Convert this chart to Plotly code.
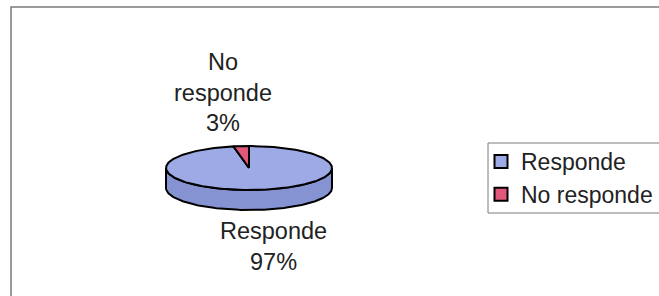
import numpy as np
import plotly.graph_objects as go

# ---- data ----
categories = ["Responde", "No responde"]
values = [97, 3]
label_texts = ["Responde<br>97%", "No<br>responde<br>3%"]

# ---- style ----
W, H = 659, 296
top_colors = ["#9DAAE6", "#E1587C"]
side_colors = ["#8593D2", "#B8456A"]
CX, CY, RA, RB, DEPTH = 249, 168, 83, 22, 20
FONT = "Liberation Sans, Arial, sans-serif"

fig = go.Figure()

total = float(sum(values))
angles = []
start = 90.0
for v in values:
    sweep = 360.0 * v / total
    angles.append((start, start - sweep))
    start -= sweep


def pt(t_deg, dy=0.0):
    t = np.radians(t_deg)
    return CX + RA * np.cos(t), CY - RB * np.sin(t) + dy

# side walls (front half only)
for i, (s, e) in enumerate(angles):
    for lo, hi in [(-540, -360), (-180, 0), (180, 360)]:
        a0, a1 = max(e, lo), min(s, hi)
        if a1 - a0 <= 0.01:
            continue
        ts = np.linspace(a0, a1, 200)
        xt, yt = pt(ts)
        xb, yb = pt(ts[::-1], DEPTH)
        xs = np.concatenate([xt, xb, xt[:1]])
        ys = np.concatenate([yt, yb, yt[:1]])
        fig.add_trace(go.Scatter(x=xs, y=ys, mode="lines", fill="toself",
                                 fillcolor=side_colors[i],
                                 line=dict(color="black", width=2),
                                 hoverinfo="skip", showlegend=False))

# top faces
for i, (s, e) in enumerate(angles):
    ts = np.linspace(s, e, 300)
    xa, ya = pt(ts)
    xs = np.concatenate([[CX], xa, [CX]])
    ys = np.concatenate([[CY], ya, [CY]])
    fig.add_trace(go.Scatter(x=xs, y=ys, mode="lines", fill="toself",
                             fillcolor=top_colors[i],
                             line=dict(color="black", width=2),
                             name=categories[i], hoverinfo="skip",
                             showlegend=False))

# legend entries
for i, c in enumerate(categories):
    fig.add_trace(go.Scatter(x=[None], y=[None], mode="markers", name=c,
                             marker=dict(symbol="square", size=13,
                                         color=top_colors[i],
                                         line=dict(color="black", width=2))))

# data labels
shifts = [(17, -6), (-18, 8)]
for i, (s, e) in enumerate(angles):
    m = (s + e) / 2.0
    front = np.sin(np.radians(m)) < 0
    x, y = pt(m, DEPTH if front else 0)
    fig.add_annotation(x=x, y=y, text=label_texts[i], showarrow=False,
                       xanchor="center", yanchor="top" if front else "bottom",
                       xshift=shifts[i][0], yshift=shifts[i][1],
                       font=dict(family=FONT, size=23.5, color="#222222"))

# chart border and legend box
fig.add_shape(type="rect", xref="paper", yref="paper",
              x0=11 / W, x1=1.05, y0=-0.1, y1=1 - 7 / H,
              line=dict(color="#7a7a7a", width=1.5))
fig.add_shape(type="rect", xref="paper", yref="paper",
              x0=488 / W, x1=1.05, y0=1 - 213 / H, y1=1 - 143 / H,
              line=dict(color="#7a7a7a", width=1))

fig.update_layout(
    width=W, height=H,
    margin=dict(l=0, r=0, t=0, b=0),
    paper_bgcolor="white", plot_bgcolor="white",
    xaxis=dict(range=[0, W], visible=False, fixedrange=True),
    yaxis=dict(range=[H, 0], visible=False, fixedrange=True),
    showlegend=True,
    legend=dict(x=481 / W, y=1 - 140 / H, xanchor="left", yanchor="top",
                bgcolor="rgba(0,0,0,0)", borderwidth=0,
                font=dict(family=FONT, size=23, color="#222222"),
                itemwidth=30, tracegroupgap=0),
)

fig.write_html("out.html", config={"displayModeBar": False},
               post_script="document.body.style.margin='0px';")
